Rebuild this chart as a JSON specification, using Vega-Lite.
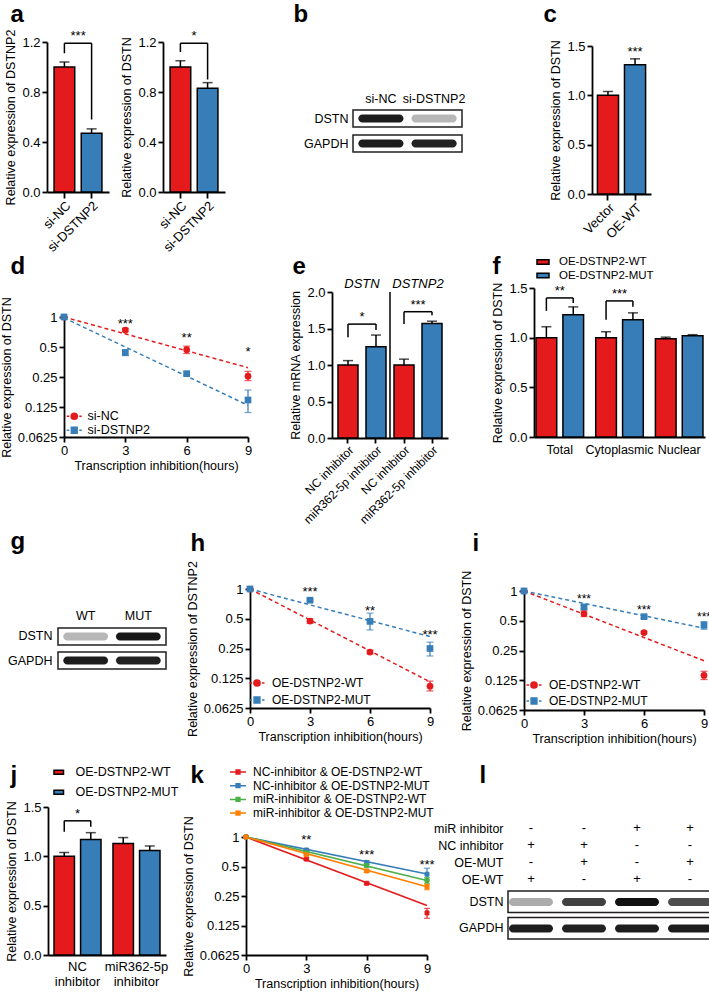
{
"$schema":"https://vega.github.io/schema/vega-lite/v6.json",
"padding":0,
"autosize":{"type":"pad"},
"spacing":0,
"bounds":"flush",
"columns":3,
"resolve":{"scale":{"color":"independent","opacity":"independent","shape":"independent","stroke":"independent","xOffset":"independent"},"legend":{"color":"independent","shape":"independent","stroke":"independent"}},
"config":{
 "font":"Liberation Sans",
 "view":{"stroke":null},
 "axis":{"domainColor":"#000","domainWidth":1.8,"tickColor":"#000","tickWidth":1.8,"tickSize":5,"labelColor":"#000","labelFontSize":13,"labelFont":"Liberation Sans","titleFont":"Liberation Sans","titleFontSize":12.5,"titleFontWeight":"normal","titleColor":"#000","grid":false,"labelFlush":false,"labelOverlap":false,"labelPadding":2,"titlePadding":4},
 "legend":{"labelFont":"Liberation Sans","labelColor":"#000","labelFontSize":12,"padding":0,"titlePadding":0,"labelLimit":400},
 "text":{"font":"Liberation Sans","color":"#000"}
},
"concat":[
 {"width":240,"height":250,
  "resolve":{"scale":{"x":"independent","y":"independent","color":"independent"}},
  "layer":[
   {"data":{"values":[{"group":"si-NC","mean":1.0,"hi":1.04},{"group":"si-DSTNP2","mean":0.47,"hi":0.505}]},
    "encoding":{
     "x":{"field":"group","type":"nominal","scale":{"domain":["si-NC","si-DSTNP2"],"range":[42,104],"paddingInner":0.24,"paddingOuter":0.26},"axis":{"orient":"bottom","offset":-58,"tickSize":6,"labelAngle":-45,"labelAlign":"right","labelBaseline":"top","labelFontSize":13,"labelPadding":1,"title":"a","titleX":5,"titleY":-171,"titleAngle":0,"titleAlign":"left","titleBaseline":"alphabetic","titleFontSize":24,"titleFontWeight":"bold"}},
     "y":{"field":"mean","type":"quantitative","scale":{"domain":[0,1.2],"range":[192,42],"nice":false},"axis":{"orient":"left","offset":-42,"values":[0,0.4,0.8,1.2],"format":".1f","title":"Relative expression of DSTNP2"}}},
    "layer":[
     {"mark":{"type":"bar","stroke":"#000","strokeWidth":1.5},"encoding":{"color":{"field":"group","type":"nominal","scale":{"domain":["si-NC","si-DSTNP2"],"range":["#E41A1C","#377EB8"]},"legend":null}}},
     {"mark":{"type":"rule","strokeWidth":1.5,"color":"#000"},"encoding":{"y":{"field":"mean","type":"quantitative"},"y2":{"field":"hi"}}},
     {"mark":{"type":"tick","orient":"horizontal","size":10,"thickness":1.5,"color":"#000"},"encoding":{"y":{"field":"hi","type":"quantitative"}}},
     {"data":{"values":[{"from":"si-NC","to":"si-DSTNP2","yLeft":1.11,"yRight":0.58,"yTop":1.19,"label":"***"}]},
      "layer":[
       {"mark":{"type":"rule","strokeWidth":1.5,"color":"#000"},"encoding":{"x":{"field":"from","type":"nominal"},"y":{"field":"yLeft","type":"quantitative"},"y2":{"field":"yTop"}}},
       {"mark":{"type":"rule","strokeWidth":1.5,"color":"#000"},"encoding":{"x":{"field":"to","type":"nominal"},"y":{"field":"yRight","type":"quantitative"},"y2":{"field":"yTop"}}},
       {"mark":{"type":"rule","strokeWidth":1.5,"color":"#000"},"encoding":{"x":{"field":"from","type":"nominal","bandPosition":0.5},"x2":{"field":"to","bandPosition":0.5},"y":{"field":"yTop","type":"quantitative"}}},
       {"mark":{"type":"text","fontSize":13,"dy":-3,"baseline":"alphabetic"},"encoding":{"x":{"field":"from","type":"nominal","bandPosition":1.164},"y":{"field":"yTop","type":"quantitative"},"text":{"field":"label"}}}
      ]}
    ]},
   {"data":{"values":[{"group":"si-NC","mean":1.0,"hi":1.05},{"group":"si-DSTNP2","mean":0.83,"hi":0.875}]},
    "encoding":{
     "x":{"field":"group","type":"nominal","scale":{"domain":["si-NC","si-DSTNP2"],"range":[158,220],"paddingInner":0.24,"paddingOuter":0.26},"axis":{"orient":"bottom","offset":-58,"tickSize":6,"labelAngle":-45,"labelAlign":"right","labelBaseline":"top","labelFontSize":13,"labelPadding":1,"title":null}},
     "y":{"field":"mean","type":"quantitative","scale":{"domain":[0,1.2],"range":[192,42],"nice":false},"axis":{"orient":"left","offset":-158,"values":[0,0.4,0.8,1.2],"format":".1f","title":"Relative expression of DSTN"}}},
    "layer":[
     {"mark":{"type":"bar","stroke":"#000","strokeWidth":1.5},"encoding":{"color":{"field":"group","type":"nominal","scale":{"domain":["si-NC","si-DSTNP2"],"range":["#E41A1C","#377EB8"]},"legend":null}}},
     {"mark":{"type":"rule","strokeWidth":1.5,"color":"#000"},"encoding":{"y":{"field":"mean","type":"quantitative"},"y2":{"field":"hi"}}},
     {"mark":{"type":"tick","orient":"horizontal","size":10,"thickness":1.5,"color":"#000"},"encoding":{"y":{"field":"hi","type":"quantitative"}}},
     {"data":{"values":[{"from":"si-NC","to":"si-DSTNP2","yLeft":1.12,"yRight":0.9,"yTop":1.19,"label":"*"}]},
      "layer":[
       {"mark":{"type":"rule","strokeWidth":1.5,"color":"#000"},"encoding":{"x":{"field":"from","type":"nominal"},"y":{"field":"yLeft","type":"quantitative"},"y2":{"field":"yTop"}}},
       {"mark":{"type":"rule","strokeWidth":1.5,"color":"#000"},"encoding":{"x":{"field":"to","type":"nominal"},"y":{"field":"yRight","type":"quantitative"},"y2":{"field":"yTop"}}},
       {"mark":{"type":"rule","strokeWidth":1.5,"color":"#000"},"encoding":{"x":{"field":"from","type":"nominal","bandPosition":0.5},"x2":{"field":"to","bandPosition":0.5},"y":{"field":"yTop","type":"quantitative"}}},
       {"mark":{"type":"text","fontSize":13,"dy":-3,"baseline":"alphabetic"},"encoding":{"x":{"field":"from","type":"nominal","bandPosition":1.164},"y":{"field":"yTop","type":"quantitative"},"text":{"field":"label"}}}
      ]}
    ]}
  ]},
 {"width":230,"height":250,
  "resolve":{"scale":{"x":"independent","y":"independent","opacity":"independent"}},
  "layer":[
   {"data":{"values":[{"protein":"DSTN"},{"protein":"GAPDH"}]},
    "mark":{"type":"rect","fill":"transparent","stroke":"#231f20","strokeWidth":1.5},
    "encoding":{
     "x":{"datum":"blot","type":"nominal","scale":{"domain":["blot"],"range":[108,217],"paddingInner":0,"paddingOuter":0},"axis":null},
     "y":{"field":"protein","type":"nominal","scale":{"domain":["DSTN","GAPDH"],"range":[110,152],"paddingInner":0.32,"paddingOuter":0},"axis":{"orient":"left","offset":-108,"domain":false,"ticks":false,"labelPadding":5,"labelFontSize":12.5,"title":null}}}},
   {"data":{"values":[{"lane":"si-NC","protein":"DSTN","intensity":0.95},{"lane":"si-DSTNP2","protein":"DSTN","intensity":0.3},{"lane":"si-NC","protein":"GAPDH","intensity":0.95},{"lane":"si-DSTNP2","protein":"GAPDH","intensity":0.93}]},
    "mark":{"type":"rect","color":"#111","cornerRadius":4},
    "encoding":{
     "x":{"field":"lane","type":"nominal","scale":{"domain":["si-NC","si-DSTNP2"],"range":[108,217],"paddingInner":0.15,"paddingOuter":0.1},"axis":{"orient":"top","offset":-108,"domain":false,"ticks":false,"labelAngle":0,"labelAlign":"center","labelBaseline":"bottom","labelPadding":3,"labelFontSize":12.5,"title":"b","titleX":48,"titleY":-87,"titleAngle":0,"titleAlign":"left","titleBaseline":"alphabetic","titleFontSize":24,"titleFontWeight":"bold"}},
     "y":{"field":"protein","type":"nominal","scale":{"domain":["DSTN","GAPDH"],"range":[114.5,147.5],"paddingInner":0.68,"paddingOuter":0},"axis":null},
     "opacity":{"field":"intensity","type":"quantitative","scale":{"domain":[0,1],"range":[0,1]},"legend":null}}}
  ]},
 {"width":239,"height":250,
  "data":{"values":[{"group":"Vector","mean":1.0,"hi":1.04,"sig":""},{"group":"OE-WT","mean":1.31,"hi":1.37,"sig":"***"}]},
  "encoding":{
   "x":{"field":"group","type":"nominal","scale":{"domain":["Vector","OE-WT"],"range":[117,176],"paddingInner":0.22,"paddingOuter":0.2},"axis":{"orient":"bottom","offset":-56,"tickSize":6,"labelAngle":-45,"labelAlign":"right","labelBaseline":"top","labelFontSize":13,"labelPadding":1,"title":"c","titleX":68,"titleY":-173,"titleAngle":0,"titleAlign":"left","titleBaseline":"alphabetic","titleFontSize":24,"titleFontWeight":"bold"}},
   "y":{"field":"mean","type":"quantitative","scale":{"domain":[0,1.5],"range":[194,46],"nice":false},"axis":{"orient":"left","offset":-117,"values":[0,0.5,1,1.5],"format":".1f","title":"Relative expression of DSTN"}}},
  "layer":[
   {"mark":{"type":"bar","stroke":"#000","strokeWidth":1.5},"encoding":{"color":{"field":"group","type":"nominal","scale":{"domain":["Vector","OE-WT"],"range":["#E41A1C","#377EB8"]},"legend":null}}},
   {"mark":{"type":"rule","strokeWidth":1.5,"color":"#000"},"encoding":{"y":{"field":"mean","type":"quantitative"},"y2":{"field":"hi"}}},
   {"mark":{"type":"tick","orient":"horizontal","size":10,"thickness":1.5,"color":"#000"},"encoding":{"y":{"field":"hi","type":"quantitative"}}},
   {"mark":{"type":"text","fontSize":13,"dy":-3,"baseline":"alphabetic"},"encoding":{"y":{"field":"hi","type":"quantitative"},"text":{"field":"sig"}}}
  ]},
 {"width":240,"height":240,
  "resolve":{"scale":{"x":"independent"}},
  "layer":[
   {"encoding":{
     "x":{"field":"t","type":"quantitative","scale":{"domain":[0,9],"range":[59,243],"nice":false,"zero":false},"axis":{"orient":"bottom","offset":-53,"values":[0,3,6,9],"title":"Transcription inhibition(hours)","titlePadding":2}},
     "y":{"field":"v","type":"quantitative","scale":{"type":"log","base":2,"domain":[0.0625,1],"range":[187,67],"nice":false},"axis":{"orient":"left","offset":-59,"values":[0.0625,0.125,0.25,0.5,1],"format":"~g","title":"Relative expression of DSTN"}},
     "color":{"condition":{"test":"datum.series === 'si-NC'","value":"#E41A1C"},"value":"#377EB8"},
     "detail":{"field":"series","type":"nominal"}},
    "layer":[
     {"data":{"values":[{"series":"si-NC","t":0,"v":1.0},{"series":"si-NC","t":9,"v":0.31},{"series":"si-DSTNP2","t":0,"v":0.98},{"series":"si-DSTNP2","t":9,"v":0.13}]},
      "mark":{"type":"line","strokeDash":[4,3],"strokeWidth":1.5}},
     {"data":{"values":[
       {"series":"si-NC","t":0,"v":1,"lo":1,"hi":1},{"series":"si-NC","t":3,"v":0.74,"lo":0.71,"hi":0.77},{"series":"si-NC","t":6,"v":0.47,"lo":0.43,"hi":0.51},{"series":"si-NC","t":9,"v":0.255,"lo":0.23,"hi":0.285},
       {"series":"si-DSTNP2","t":0,"v":1,"lo":1,"hi":1},{"series":"si-DSTNP2","t":3,"v":0.44,"lo":0.41,"hi":0.47},{"series":"si-DSTNP2","t":6,"v":0.27,"lo":0.26,"hi":0.28},{"series":"si-DSTNP2","t":9,"v":0.147,"lo":0.11,"hi":0.185}]},
      "layer":[
       {"mark":{"type":"rule","strokeWidth":1.2},"encoding":{"y":{"field":"lo","type":"quantitative"},"y2":{"field":"hi"}}},
       {"mark":{"type":"tick","orient":"horizontal","size":7,"thickness":1.2},"encoding":{"y":{"field":"lo","type":"quantitative"}}},
       {"mark":{"type":"tick","orient":"horizontal","size":7,"thickness":1.2},"encoding":{"y":{"field":"hi","type":"quantitative"}}},
       {"mark":{"type":"point","filled":true,"size":45,"opacity":1},"encoding":{"shape":{"condition":{"test":"datum.series === 'si-NC'","value":"circle"},"value":"square"}}},
       {"mark":{"type":"point","filled":true,"size":100,"opacity":0},
        "encoding":{
         "color":{"field":"series","type":"nominal","scale":{"domain":["si-NC","si-DSTNP2"],"range":["#E41A1C","#377EB8"]},"legend":{"orient":"none","legendX":63,"legendY":160,"title":null,"labelFontSize":12.5,"symbolSize":100,"symbolStrokeWidth":1.5,"symbolOpacity":1,"labelOffset":7,"rowPadding":1}},
         "stroke":{"field":"series","type":"nominal","scale":{"domain":["si-NC","si-DSTNP2"],"range":["#E41A1C","#377EB8"]},"legend":{"orient":"none","legendX":63,"legendY":160,"title":null,"labelFontSize":12.5,"symbolSize":100,"symbolStrokeWidth":1.5,"symbolOpacity":1,"labelOffset":7,"rowPadding":1}},
         "shape":{"field":"series","type":"nominal","scale":{"domain":["si-NC","si-DSTNP2"],"range":["M-1.5,0H-1M1,0H1.5M-0.62,0A0.62,0.62,0,1,1,0.62,0A0.62,0.62,0,1,1,-0.62,0Z","M-1.5,0H-1M1,0H1.5M-0.58,-0.58H0.58V0.58H-0.58Z"]},"legend":{"orient":"none","legendX":63,"legendY":160,"title":null,"labelFontSize":12.5,"symbolSize":100,"symbolStrokeWidth":1.5,"symbolOpacity":1,"labelOffset":7,"rowPadding":1}}}}
      ]}
    ]},
   {"data":{"values":[{"t":3,"v":0.92,"label":"***"},{"t":6,"v":0.66,"label":"**"},{"t":9,"v":0.48,"label":"*"}]},
    "mark":{"type":"text","fontSize":13,"baseline":"middle","dy":3},
    "encoding":{
     "x":{"field":"t","type":"quantitative","scale":{"domain":[0,9],"range":[59,243],"nice":false,"zero":false},"axis":{"orient":"top","offset":0,"domain":false,"ticks":false,"labels":false,"title":"d","titleX":5,"titleY":23,"titleAngle":0,"titleAlign":"left","titleBaseline":"alphabetic","titleFontSize":24,"titleFontWeight":"bold"}},
     "y":{"field":"v","type":"quantitative"},
     "text":{"field":"label"}}}
  ]},
 {"width":230,"height":240,
  "layer":[
   {"data":{"values":[
     {"bar":"DSTN|NC inhibitor","gene":"DSTN","treatment":"NC inhibitor","mean":1.0,"hi":1.06},
     {"bar":"DSTN|miR362-5p inhibitor","gene":"DSTN","treatment":"miR362-5p inhibitor","mean":1.25,"hi":1.41},
     {"bar":"DSTNP2|NC inhibitor","gene":"DSTNP2","treatment":"NC inhibitor","mean":1.0,"hi":1.08},
     {"bar":"DSTNP2|miR362-5p inhibitor","gene":"DSTNP2","treatment":"miR362-5p inhibitor","mean":1.57,"hi":1.6}]},
    "encoding":{
     "x":{"field":"bar","type":"nominal","scale":{"domain":["DSTN|NC inhibitor","DSTN|miR362-5p inhibitor","DSTNP2|NC inhibitor","DSTNP2|miR362-5p inhibitor"],"range":[87,203],"paddingInner":0.286,"paddingOuter":0.214},"axis":{"orient":"bottom","offset":-52,"labelExpr":"split(datum.label, '|')[1]","labelAngle":-45,"labelAlign":"right","labelBaseline":"top","labelFontSize":12,"labelPadding":1,"title":"e","titleX":47,"titleY":-165,"titleAngle":0,"titleAlign":"left","titleBaseline":"alphabetic","titleFontSize":24,"titleFontWeight":"bold"}},
     "y":{"field":"mean","type":"quantitative","scale":{"domain":[0,2],"range":[188,42],"nice":false},"axis":{"orient":"left","offset":-87,"values":[0,0.5,1,1.5,2],"format":".1f","title":"Relative mRNA expression"}}},
    "layer":[
     {"mark":{"type":"bar","stroke":"#000","strokeWidth":1.5},"encoding":{"color":{"field":"treatment","type":"nominal","scale":{"domain":["NC inhibitor","miR362-5p inhibitor"],"range":["#E41A1C","#377EB8"]},"legend":null}}},
     {"mark":{"type":"rule","strokeWidth":1.5,"color":"#000"},"encoding":{"y":{"field":"mean","type":"quantitative"},"y2":{"field":"hi"}}},
     {"mark":{"type":"tick","orient":"horizontal","size":10,"thickness":1.5,"color":"#000"},"encoding":{"y":{"field":"hi","type":"quantitative"}}}
    ]},
   {"data":{"values":[{"gene":"DSTN","first":"DSTN|NC inhibitor"},{"gene":"DSTNP2","first":"DSTNP2|NC inhibitor"}]},
    "mark":{"type":"text","fontSize":13,"fontStyle":"italic","baseline":"alphabetic"},
    "encoding":{"x":{"field":"first","type":"nominal","bandPosition":1.2},"y":{"datum":2.055,"type":"quantitative"},"text":{"field":"gene"}}},
   {"data":{"values":[{"after":"DSTN|miR362-5p inhibitor"}]},
    "mark":{"type":"rule","strokeWidth":1.5,"color":"#000"},
    "encoding":{"x":{"field":"after","type":"nominal","bandPosition":1.2},"y":{"datum":0,"type":"quantitative"},"y2":{"datum":2}}},
   {"data":{"values":[{"from":"DSTN|NC inhibitor","to":"DSTN|miR362-5p inhibitor","yLeft":1.38,"yRight":1.48,"yTop":1.56,"label":"*"},{"from":"DSTNP2|NC inhibitor","to":"DSTNP2|miR362-5p inhibitor","yLeft":1.56,"yRight":1.68,"yTop":1.73,"label":"***"}]},
    "layer":[
     {"mark":{"type":"rule","strokeWidth":1.5,"color":"#000"},"encoding":{"x":{"field":"from","type":"nominal"},"y":{"field":"yLeft","type":"quantitative"},"y2":{"field":"yTop"}}},
     {"mark":{"type":"rule","strokeWidth":1.5,"color":"#000"},"encoding":{"x":{"field":"to","type":"nominal"},"y":{"field":"yRight","type":"quantitative"},"y2":{"field":"yTop"}}},
     {"mark":{"type":"rule","strokeWidth":1.5,"color":"#000"},"encoding":{"x":{"field":"from","type":"nominal","bandPosition":0.5},"x2":{"field":"to","bandPosition":0.5},"y":{"field":"yTop","type":"quantitative"}}},
     {"mark":{"type":"text","fontSize":13,"dy":-3,"baseline":"alphabetic"},"encoding":{"x":{"field":"from","type":"nominal","bandPosition":1.2},"y":{"field":"yTop","type":"quantitative"},"text":{"field":"label"}}}
    ]}
  ]},
 {"width":239,"height":240,
  "layer":[
   {"data":{"values":[
     {"fraction":"Total","construct":"OE-DSTNP2-WT","mean":1.0,"hi":1.11},
     {"fraction":"Total","construct":"OE-DSTNP2-MUT","mean":1.23,"hi":1.31},
     {"fraction":"Cytoplasmic","construct":"OE-DSTNP2-WT","mean":1.0,"hi":1.06},
     {"fraction":"Cytoplasmic","construct":"OE-DSTNP2-MUT","mean":1.18,"hi":1.25},
     {"fraction":"Nuclear","construct":"OE-DSTNP2-WT","mean":0.99,"hi":1.005},
     {"fraction":"Nuclear","construct":"OE-DSTNP2-MUT","mean":1.02,"hi":1.03}]},
    "encoding":{
     "x":{"field":"fraction","type":"nominal","scale":{"domain":["Total","Cytoplasmic","Nuclear"],"range":[59,230],"paddingInner":0.203,"paddingOuter":0.034},"axis":{"orient":"bottom","offset":-53,"ticks":false,"labelAngle":0,"labelAlign":"center","labelBaseline":"top","labelPadding":6,"labelFontSize":12.5,"title":"f","titleX":17,"titleY":-164,"titleAngle":0,"titleAlign":"left","titleBaseline":"alphabetic","titleFontSize":24,"titleFontWeight":"bold"}},
     "xOffset":{"field":"construct","type":"nominal","scale":{"domain":["OE-DSTNP2-WT","OE-DSTNP2-MUT"],"paddingInner":0.23,"paddingOuter":0}},
     "y":{"field":"mean","type":"quantitative","scale":{"domain":[0,1.5],"range":[187,38],"nice":false},"axis":{"orient":"left","offset":-59,"values":[0,0.5,1,1.5],"format":".1f","title":"Relative expression of DSTN"}}},
    "layer":[
     {"mark":{"type":"bar","stroke":"#000","strokeWidth":1.5},"encoding":{"color":{"field":"construct","type":"nominal","scale":{"domain":["OE-DSTNP2-WT","OE-DSTNP2-MUT"],"range":["#E41A1C","#377EB8"]},"legend":{"orient":"none","legendX":62,"legendY":6,"title":null,"labelFontSize":11.5,"symbolType":"M-1.2,-0.45H1.2V0.45H-1.2Z","symbolSize":100,"symbolStrokeColor":"#000","symbolStrokeWidth":1.5,"symbolOpacity":1,"labelOffset":10,"rowPadding":1.5}}}},
     {"mark":{"type":"rule","strokeWidth":1.5,"color":"#000"},"encoding":{"y":{"field":"mean","type":"quantitative"},"y2":{"field":"hi"}}},
     {"mark":{"type":"tick","orient":"horizontal","size":10,"thickness":1.5,"color":"#000"},"encoding":{"y":{"field":"hi","type":"quantitative"}}}
    ]},
   {"data":{"values":[{"fraction":"Total","yLeft":1.27,"yRight":1.35,"yTop":1.4,"label":"**"},{"fraction":"Cytoplasmic","yLeft":1.18,"yRight":1.31,"yTop":1.37,"label":"***"}]},
    "layer":[
     {"mark":{"type":"rule","strokeWidth":1.5,"color":"#000"},"encoding":{"x":{"field":"fraction","type":"nominal","bandPosition":0.2176},"y":{"field":"yLeft","type":"quantitative"},"y2":{"field":"yTop"}}},
     {"mark":{"type":"rule","strokeWidth":1.5,"color":"#000"},"encoding":{"x":{"field":"fraction","type":"nominal","bandPosition":0.782},"y":{"field":"yRight","type":"quantitative"},"y2":{"field":"yTop"}}},
     {"mark":{"type":"rule","strokeWidth":1.5,"color":"#000"},"encoding":{"x":{"field":"fraction","type":"nominal","bandPosition":0.2176},"x2":{"field":"fraction","bandPosition":0.782},"y":{"field":"yTop","type":"quantitative"}}},
     {"mark":{"type":"text","fontSize":13,"dy":-3,"baseline":"alphabetic"},"encoding":{"x":{"field":"fraction","type":"nominal","bandPosition":0.5},"y":{"field":"yTop","type":"quantitative"},"text":{"field":"label"}}}
    ]}
  ]},
 {"width":240,"height":250,
  "resolve":{"scale":{"x":"independent","y":"independent","opacity":"independent"}},
  "layer":[
   {"data":{"values":[{"protein":"DSTN"},{"protein":"GAPDH"}]},
    "mark":{"type":"rect","fill":"transparent","stroke":"#231f20","strokeWidth":1.5},
    "encoding":{
     "x":{"datum":"blot","type":"nominal","scale":{"domain":["blot"],"range":[53,161],"paddingInner":0,"paddingOuter":0},"axis":null},
     "y":{"field":"protein","type":"nominal","scale":{"domain":["DSTN","GAPDH"],"range":[138,179],"paddingInner":0.292,"paddingOuter":0},"axis":{"orient":"left","offset":-53,"domain":false,"ticks":false,"labelPadding":6,"labelFontSize":12.5,"title":null}}}},
   {"data":{"values":[{"lane":"WT","protein":"DSTN","intensity":0.3},{"lane":"MUT","protein":"DSTN","intensity":0.97},{"lane":"WT","protein":"GAPDH","intensity":0.95},{"lane":"MUT","protein":"GAPDH","intensity":0.93}]},
    "mark":{"type":"rect","color":"#111","cornerRadius":4},
    "encoding":{
     "x":{"field":"lane","type":"nominal","scale":{"domain":["WT","MUT"],"range":[53,161],"paddingInner":0.15,"paddingOuter":0.1},"axis":{"orient":"top","offset":-135,"domain":false,"ticks":false,"labelAngle":0,"labelAlign":"center","labelBaseline":"bottom","labelPadding":3,"labelFontSize":12.5,"title":"g","titleX":5,"titleY":-77,"titleAngle":0,"titleAlign":"left","titleBaseline":"alphabetic","titleFontSize":24,"titleFontWeight":"bold"}},
     "y":{"field":"protein","type":"nominal","scale":{"domain":["DSTN","GAPDH"],"range":[142.5,174.5],"paddingInner":0.667,"paddingOuter":0},"axis":null},
     "opacity":{"field":"intensity","type":"quantitative","scale":{"domain":[0,1],"range":[0,1]},"legend":null}}}
  ]},
 {"width":230,"height":250,
  "resolve":{"scale":{"x":"independent"}},
  "layer":[
   {"encoding":{
     "x":{"field":"t","type":"quantitative","scale":{"domain":[0,9],"range":[5,185],"nice":false,"zero":false},"axis":{"orient":"bottom","offset":-32,"values":[0,3,6,9],"title":"Transcription inhibition(hours)","titlePadding":2}},
     "y":{"field":"v","type":"quantitative","scale":{"type":"log","base":2,"domain":[0.0625,1],"range":[218,99],"nice":false},"axis":{"orient":"left","offset":-5,"values":[0.0625,0.125,0.25,0.5,1],"format":"~g","title":"Relative expression of DSTNP2"}},
     "color":{"condition":{"test":"datum.series === 'OE-DSTNP2-WT'","value":"#E41A1C"},"value":"#377EB8"},
     "detail":{"field":"series","type":"nominal"}},
    "layer":[
     {"data":{"values":[{"series":"OE-DSTNP2-WT","t":0,"v":1.0},{"series":"OE-DSTNP2-WT","t":9,"v":0.115},{"series":"OE-DSTNP2-MUT","t":0,"v":1.0},{"series":"OE-DSTNP2-MUT","t":9,"v":0.33}]},
      "mark":{"type":"line","strokeDash":[4,3],"strokeWidth":1.5}},
     {"data":{"values":[
       {"series":"OE-DSTNP2-WT","t":0,"v":1,"lo":1,"hi":1},{"series":"OE-DSTNP2-WT","t":3,"v":0.474,"lo":0.45,"hi":0.5},{"series":"OE-DSTNP2-WT","t":6,"v":0.23,"lo":0.22,"hi":0.24},{"series":"OE-DSTNP2-WT","t":9,"v":0.104,"lo":0.093,"hi":0.117},
       {"series":"OE-DSTNP2-MUT","t":0,"v":1,"lo":1,"hi":1},{"series":"OE-DSTNP2-MUT","t":3,"v":0.77,"lo":0.75,"hi":0.79},{"series":"OE-DSTNP2-MUT","t":6,"v":0.47,"lo":0.385,"hi":0.57},{"series":"OE-DSTNP2-MUT","t":9,"v":0.25,"lo":0.21,"hi":0.29}]},
      "layer":[
       {"mark":{"type":"rule","strokeWidth":1.2},"encoding":{"y":{"field":"lo","type":"quantitative"},"y2":{"field":"hi"}}},
       {"mark":{"type":"tick","orient":"horizontal","size":7,"thickness":1.2},"encoding":{"y":{"field":"lo","type":"quantitative"}}},
       {"mark":{"type":"tick","orient":"horizontal","size":7,"thickness":1.2},"encoding":{"y":{"field":"hi","type":"quantitative"}}},
       {"mark":{"type":"point","filled":true,"size":45,"opacity":1},"encoding":{"shape":{"condition":{"test":"datum.series === 'OE-DSTNP2-WT'","value":"circle"},"value":"square"}}},
       {"mark":{"type":"point","filled":true,"size":100,"opacity":0},
        "encoding":{
         "color":{"field":"series","type":"nominal","scale":{"domain":["OE-DSTNP2-WT","OE-DSTNP2-MUT"],"range":["#E41A1C","#377EB8"]},"legend":{"orient":"none","legendX":6,"legendY":187,"title":null,"labelFontSize":12,"symbolSize":100,"symbolStrokeWidth":1.5,"symbolOpacity":1,"labelOffset":9,"rowPadding":4}},
         "stroke":{"field":"series","type":"nominal","scale":{"domain":["OE-DSTNP2-WT","OE-DSTNP2-MUT"],"range":["#E41A1C","#377EB8"]},"legend":{"orient":"none","legendX":6,"legendY":187,"title":null,"labelFontSize":12,"symbolSize":100,"symbolStrokeWidth":1.5,"symbolOpacity":1,"labelOffset":9,"rowPadding":4}},
         "shape":{"field":"series","type":"nominal","scale":{"domain":["OE-DSTNP2-WT","OE-DSTNP2-MUT"],"range":["M-1.5,0H-1M1,0H1.5M-0.62,0A0.62,0.62,0,1,1,0.62,0A0.62,0.62,0,1,1,-0.62,0Z","M-1.5,0H-1M1,0H1.5M-0.58,-0.58H0.58V0.58H-0.58Z"]},"legend":{"orient":"none","legendX":6,"legendY":187,"title":null,"labelFontSize":12,"symbolSize":100,"symbolStrokeWidth":1.5,"symbolOpacity":1,"labelOffset":9,"rowPadding":4}}}}
      ]}
    ]},
   {"data":{"values":[{"t":3,"v":1.0,"label":"***"},{"t":6,"v":0.64,"label":"**"},{"t":9,"v":0.37,"label":"***"}]},
    "mark":{"type":"text","fontSize":13,"baseline":"middle","dy":3},
    "encoding":{
     "x":{"field":"t","type":"quantitative","scale":{"domain":[0,9],"range":[5,185],"nice":false,"zero":false},"axis":{"orient":"top","offset":0,"domain":false,"ticks":false,"labels":false,"title":"h","titleX":-55,"titleY":60,"titleAngle":0,"titleAlign":"left","titleBaseline":"alphabetic","titleFontSize":24,"titleFontWeight":"bold"}},
     "y":{"field":"v","type":"quantitative"},
     "text":{"field":"label"}}}
  ]},
 {"width":239,"height":250,
  "resolve":{"scale":{"x":"independent"}},
  "layer":[
   {"encoding":{
     "x":{"field":"t","type":"quantitative","scale":{"domain":[0,9],"range":[49,229],"nice":false,"zero":false},"axis":{"orient":"bottom","offset":-30,"values":[0,3,6,9],"title":"Transcription inhibition(hours)","titlePadding":2}},
     "y":{"field":"v","type":"quantitative","scale":{"type":"log","base":2,"domain":[0.0625,1],"range":[220,101],"nice":false},"axis":{"orient":"left","offset":-49,"values":[0.0625,0.125,0.25,0.5,1],"format":"~g","title":"Relative expression of DSTN"}},
     "color":{"condition":{"test":"datum.series === 'OE-DSTNP2-WT'","value":"#E41A1C"},"value":"#377EB8"},
     "detail":{"field":"series","type":"nominal"}},
    "layer":[
     {"data":{"values":[{"series":"OE-DSTNP2-WT","t":0,"v":1.0},{"series":"OE-DSTNP2-WT","t":9,"v":0.197},{"series":"OE-DSTNP2-MUT","t":0,"v":1.0},{"series":"OE-DSTNP2-MUT","t":9,"v":0.42}]},
      "mark":{"type":"line","strokeDash":[4,3],"strokeWidth":1.5}},
     {"data":{"values":[
       {"series":"OE-DSTNP2-WT","t":0,"v":1,"lo":1,"hi":1},{"series":"OE-DSTNP2-WT","t":3,"v":0.59,"lo":0.55,"hi":0.63},{"series":"OE-DSTNP2-WT","t":6,"v":0.38,"lo":0.37,"hi":0.39},{"series":"OE-DSTNP2-WT","t":9,"v":0.14,"lo":0.127,"hi":0.154},
       {"series":"OE-DSTNP2-MUT","t":0,"v":1,"lo":1,"hi":1},{"series":"OE-DSTNP2-MUT","t":3,"v":0.69,"lo":0.66,"hi":0.72},{"series":"OE-DSTNP2-MUT","t":6,"v":0.55,"lo":0.53,"hi":0.57},{"series":"OE-DSTNP2-MUT","t":9,"v":0.45,"lo":0.41,"hi":0.49}]},
      "layer":[
       {"mark":{"type":"rule","strokeWidth":1.2},"encoding":{"y":{"field":"lo","type":"quantitative"},"y2":{"field":"hi"}}},
       {"mark":{"type":"tick","orient":"horizontal","size":7,"thickness":1.2},"encoding":{"y":{"field":"lo","type":"quantitative"}}},
       {"mark":{"type":"tick","orient":"horizontal","size":7,"thickness":1.2},"encoding":{"y":{"field":"hi","type":"quantitative"}}},
       {"mark":{"type":"point","filled":true,"size":45,"opacity":1},"encoding":{"shape":{"condition":{"test":"datum.series === 'OE-DSTNP2-WT'","value":"circle"},"value":"square"}}},
       {"mark":{"type":"point","filled":true,"size":100,"opacity":0},
        "encoding":{
         "color":{"field":"series","type":"nominal","scale":{"domain":["OE-DSTNP2-WT","OE-DSTNP2-MUT"],"range":["#E41A1C","#377EB8"]},"legend":{"orient":"none","legendX":53,"legendY":189,"title":null,"labelFontSize":12,"symbolSize":100,"symbolStrokeWidth":1.5,"symbolOpacity":1,"labelOffset":9,"rowPadding":3}},
         "stroke":{"field":"series","type":"nominal","scale":{"domain":["OE-DSTNP2-WT","OE-DSTNP2-MUT"],"range":["#E41A1C","#377EB8"]},"legend":{"orient":"none","legendX":53,"legendY":189,"title":null,"labelFontSize":12,"symbolSize":100,"symbolStrokeWidth":1.5,"symbolOpacity":1,"labelOffset":9,"rowPadding":3}},
         "shape":{"field":"series","type":"nominal","scale":{"domain":["OE-DSTNP2-WT","OE-DSTNP2-MUT"],"range":["M-1.5,0H-1M1,0H1.5M-0.62,0A0.62,0.62,0,1,1,0.62,0A0.62,0.62,0,1,1,-0.62,0Z","M-1.5,0H-1M1,0H1.5M-0.58,-0.58H0.58V0.58H-0.58Z"]},"legend":{"orient":"none","legendX":53,"legendY":189,"title":null,"labelFontSize":12,"symbolSize":100,"symbolStrokeWidth":1.5,"symbolOpacity":1,"labelOffset":9,"rowPadding":3}}}}
      ]}
    ]},
   {"data":{"values":[{"t":3,"v":0.89,"label":"***"},{"t":6,"v":0.69,"label":"***"},{"t":9,"v":0.58,"label":"***"}]},
    "mark":{"type":"text","fontSize":12,"baseline":"middle","dy":3,"align":"center"},
    "encoding":{
     "x":{"field":"t","type":"quantitative","scale":{"domain":[0,9],"range":[49,229],"nice":false,"zero":false},"axis":{"orient":"top","offset":0,"domain":false,"ticks":false,"labels":false,"title":"i","titleX":-3,"titleY":60,"titleAngle":0,"titleAlign":"left","titleBaseline":"alphabetic","titleFontSize":24,"titleFontWeight":"bold"}},
     "y":{"field":"v","type":"quantitative"},
     "text":{"field":"label"}}}
  ]},
 {"width":240,"height":252,
  "layer":[
   {"data":{"values":[
     {"inhibitor":"NC inhibitor","construct":"OE-DSTNP2-WT","mean":1.0,"hi":1.04},
     {"inhibitor":"NC inhibitor","construct":"OE-DSTNP2-MUT","mean":1.17,"hi":1.24},
     {"inhibitor":"miR362-5p inhibitor","construct":"OE-DSTNP2-WT","mean":1.13,"hi":1.19},
     {"inhibitor":"miR362-5p inhibitor","construct":"OE-DSTNP2-MUT","mean":1.06,"hi":1.105}]},
    "encoding":{
     "x":{"field":"inhibitor","type":"nominal","scale":{"domain":["NC inhibitor","miR362-5p inhibitor"],"range":[43,161],"paddingInner":0.203,"paddingOuter":0.102},"axis":{"orient":"bottom","offset":-37,"ticks":false,"labelAngle":0,"labelAlign":"center","labelBaseline":"top","labelPadding":5,"labelFontSize":13,"labelExpr":"split(datum.label, ' ')","labelLineHeight":15,"title":"j","titleX":5,"titleY":-173,"titleAngle":0,"titleAlign":"left","titleBaseline":"alphabetic","titleFontSize":24,"titleFontWeight":"bold"}},
     "xOffset":{"field":"construct","type":"nominal","scale":{"domain":["OE-DSTNP2-WT","OE-DSTNP2-MUT"],"paddingInner":0.23,"paddingOuter":0}},
     "y":{"field":"mean","type":"quantitative","scale":{"domain":[0,1.5],"range":[215,67],"nice":false},"axis":{"orient":"left","offset":-43,"values":[0,0.5,1,1.5],"format":".1f","title":"Relative expression of DSTN"}}},
    "layer":[
     {"mark":{"type":"bar","stroke":"#000","strokeWidth":1.5},"encoding":{"color":{"field":"construct","type":"nominal","scale":{"domain":["OE-DSTNP2-WT","OE-DSTNP2-MUT"],"range":["#E41A1C","#377EB8"]},"legend":{"orient":"none","legendX":47.5,"legendY":26,"title":null,"labelFontSize":12.5,"symbolType":"M-0.95,-0.4H0.95V0.4H-0.95Z","symbolSize":100,"symbolStrokeColor":"#000","symbolStrokeWidth":1.5,"symbolOpacity":1,"labelOffset":10.5,"rowPadding":7}}}},
     {"mark":{"type":"rule","strokeWidth":1.5,"color":"#000"},"encoding":{"y":{"field":"mean","type":"quantitative"},"y2":{"field":"hi"}}},
     {"mark":{"type":"tick","orient":"horizontal","size":10,"thickness":1.5,"color":"#000"},"encoding":{"y":{"field":"hi","type":"quantitative"}}}
    ]},
   {"data":{"values":[{"inhibitor":"NC inhibitor","yLeft":1.25,"yRight":1.3,"yTop":1.36,"label":"*"}]},
    "layer":[
     {"mark":{"type":"rule","strokeWidth":1.5,"color":"#000"},"encoding":{"x":{"field":"inhibitor","type":"nominal","bandPosition":0.2176},"y":{"field":"yLeft","type":"quantitative"},"y2":{"field":"yTop"}}},
     {"mark":{"type":"rule","strokeWidth":1.5,"color":"#000"},"encoding":{"x":{"field":"inhibitor","type":"nominal","bandPosition":0.782},"y":{"field":"yRight","type":"quantitative"},"y2":{"field":"yTop"}}},
     {"mark":{"type":"rule","strokeWidth":1.5,"color":"#000"},"encoding":{"x":{"field":"inhibitor","type":"nominal","bandPosition":0.2176},"x2":{"field":"inhibitor","bandPosition":0.782},"y":{"field":"yTop","type":"quantitative"}}},
     {"mark":{"type":"text","fontSize":13,"dy":-3,"baseline":"alphabetic"},"encoding":{"x":{"field":"inhibitor","type":"nominal","bandPosition":0.5},"y":{"field":"yTop","type":"quantitative"},"text":{"field":"label"}}}
    ]}
  ]},
 {"width":230,"height":252,
  "resolve":{"scale":{"x":"independent"}},
  "layer":[
   {"encoding":{
     "x":{"field":"t","type":"quantitative","scale":{"domain":[0,9],"range":[1,182],"nice":false,"zero":false},"axis":{"orient":"bottom","offset":-37,"values":[0,3,6,9],"title":"Transcription inhibition(hours)","titlePadding":2}},
     "y":{"field":"v","type":"quantitative","scale":{"type":"log","base":2,"domain":[0.0625,1],"range":[215,97],"nice":false},"axis":{"orient":"left","offset":-1,"values":[0.0625,0.125,0.25,0.5,1],"format":"~g","title":"Relative expression of DSTN"}},
     "color":{"condition":[{"test":"datum.series === 'NC-inhibitor & OE-DSTNP2-WT'","value":"#E41A1C"},{"test":"datum.series === 'NC-inhibitor & OE-DSTNP2-MUT'","value":"#377EB8"},{"test":"datum.series === 'miR-inhibitor & OE-DSTNP2-WT'","value":"#4DAF4A"}],"value":"#FF7F00"},
     "detail":{"field":"series","type":"nominal"}},
    "layer":[
     {"data":{"values":[
       {"series":"NC-inhibitor & OE-DSTNP2-WT","t":0,"v":1.0},{"series":"NC-inhibitor & OE-DSTNP2-WT","t":9,"v":0.2},
       {"series":"NC-inhibitor & OE-DSTNP2-MUT","t":0,"v":1.0},{"series":"NC-inhibitor & OE-DSTNP2-MUT","t":9,"v":0.42},
       {"series":"miR-inhibitor & OE-DSTNP2-WT","t":0,"v":1.0},{"series":"miR-inhibitor & OE-DSTNP2-WT","t":9,"v":0.36},
       {"series":"miR-inhibitor & OE-DSTNP2-MUT","t":0,"v":1.0},{"series":"miR-inhibitor & OE-DSTNP2-MUT","t":9,"v":0.31}]},
      "mark":{"type":"line","strokeWidth":1.6}},
     {"data":{"values":[
       {"series":"NC-inhibitor & OE-DSTNP2-WT","t":0,"v":1,"lo":1,"hi":1},{"series":"NC-inhibitor & OE-DSTNP2-WT","t":3,"v":0.595,"lo":0.58,"hi":0.61},{"series":"NC-inhibitor & OE-DSTNP2-WT","t":6,"v":0.337,"lo":0.33,"hi":0.345},{"series":"NC-inhibitor & OE-DSTNP2-WT","t":9,"v":0.168,"lo":0.148,"hi":0.187},
       {"series":"NC-inhibitor & OE-DSTNP2-MUT","t":0,"v":1,"lo":1,"hi":1},{"series":"NC-inhibitor & OE-DSTNP2-MUT","t":3,"v":0.737,"lo":0.72,"hi":0.755},{"series":"NC-inhibitor & OE-DSTNP2-MUT","t":6,"v":0.55,"lo":0.53,"hi":0.57},{"series":"NC-inhibitor & OE-DSTNP2-MUT","t":9,"v":0.417,"lo":0.364,"hi":0.48},
       {"series":"miR-inhibitor & OE-DSTNP2-WT","t":0,"v":1,"lo":1,"hi":1},{"series":"miR-inhibitor & OE-DSTNP2-WT","t":3,"v":0.69,"lo":0.675,"hi":0.705},{"series":"miR-inhibitor & OE-DSTNP2-WT","t":6,"v":0.51,"lo":0.495,"hi":0.525},{"series":"miR-inhibitor & OE-DSTNP2-WT","t":9,"v":0.36,"lo":0.335,"hi":0.385},
       {"series":"miR-inhibitor & OE-DSTNP2-MUT","t":0,"v":1,"lo":1,"hi":1},{"series":"miR-inhibitor & OE-DSTNP2-MUT","t":3,"v":0.66,"lo":0.645,"hi":0.675},{"series":"miR-inhibitor & OE-DSTNP2-MUT","t":6,"v":0.45,"lo":0.435,"hi":0.465},{"series":"miR-inhibitor & OE-DSTNP2-MUT","t":9,"v":0.31,"lo":0.29,"hi":0.33}]},
      "layer":[
       {"mark":{"type":"rule","strokeWidth":1.2},"encoding":{"y":{"field":"lo","type":"quantitative"},"y2":{"field":"hi"}}},
       {"mark":{"type":"tick","orient":"horizontal","size":6,"thickness":1.2},"encoding":{"y":{"field":"lo","type":"quantitative"}}},
       {"mark":{"type":"tick","orient":"horizontal","size":6,"thickness":1.2},"encoding":{"y":{"field":"hi","type":"quantitative"}}},
       {"mark":{"type":"point","filled":true,"size":16,"opacity":1,"shape":"square","strokeWidth":1},
        "encoding":{
         "color":{"field":"series","type":"nominal","scale":{"domain":["NC-inhibitor & OE-DSTNP2-WT","NC-inhibitor & OE-DSTNP2-MUT","miR-inhibitor & OE-DSTNP2-WT","miR-inhibitor & OE-DSTNP2-MUT"],"range":["#E41A1C","#377EB8","#4DAF4A","#FF7F00"]},"legend":{"orient":"none","legendX":-13,"legendY":26,"title":null,"labelFontSize":12,"labelLimit":400,"symbolSize":100,"symbolStrokeWidth":1.5,"symbolOpacity":1,"symbolType":"M-1.6,0H1.6M-0.38,-0.38H0.38V0.38H-0.38Z","labelOffset":9,"rowPadding":1.7}},
         "stroke":{"field":"series","type":"nominal","scale":{"domain":["NC-inhibitor & OE-DSTNP2-WT","NC-inhibitor & OE-DSTNP2-MUT","miR-inhibitor & OE-DSTNP2-WT","miR-inhibitor & OE-DSTNP2-MUT"],"range":["#E41A1C","#377EB8","#4DAF4A","#FF7F00"]},"legend":{"orient":"none","legendX":-13,"legendY":26,"title":null,"labelFontSize":12,"labelLimit":400,"symbolSize":100,"symbolStrokeWidth":1.5,"symbolOpacity":1,"symbolType":"M-1.6,0H1.6M-0.38,-0.38H0.38V0.38H-0.38Z","labelOffset":9,"rowPadding":1.7}}}}
      ]}
    ]},
   {"data":{"values":[{"t":3,"v":1.0,"label":"**"},{"t":6,"v":0.71,"label":"***"},{"t":9,"v":0.55,"label":"***"}]},
    "mark":{"type":"text","fontSize":13,"baseline":"middle","dy":3},
    "encoding":{
     "x":{"field":"t","type":"quantitative","scale":{"domain":[0,9],"range":[1,182],"nice":false,"zero":false},"axis":{"orient":"top","offset":0,"domain":false,"ticks":false,"labels":false,"title":"k","titleX":-55,"titleY":42,"titleAngle":0,"titleAlign":"left","titleBaseline":"alphabetic","titleFontSize":24,"titleFontWeight":"bold"}},
     "y":{"field":"v","type":"quantitative"},
     "text":{"field":"label"}}}
  ]},
 {"width":239,"height":252,
  "resolve":{"scale":{"x":"independent","y":"independent","opacity":"independent"}},
  "layer":[
   {"data":{"values":[
     {"lane":"1","condition":"miR inhibitor","sign":"-"},{"lane":"2","condition":"miR inhibitor","sign":"-"},{"lane":"3","condition":"miR inhibitor","sign":"+"},{"lane":"4","condition":"miR inhibitor","sign":"+"},
     {"lane":"1","condition":"NC inhibitor","sign":"+"},{"lane":"2","condition":"NC inhibitor","sign":"+"},{"lane":"3","condition":"NC inhibitor","sign":"-"},{"lane":"4","condition":"NC inhibitor","sign":"-"},
     {"lane":"1","condition":"OE-MUT","sign":"-"},{"lane":"2","condition":"OE-MUT","sign":"+"},{"lane":"3","condition":"OE-MUT","sign":"-"},{"lane":"4","condition":"OE-MUT","sign":"+"},
     {"lane":"1","condition":"OE-WT","sign":"+"},{"lane":"2","condition":"OE-WT","sign":"-"},{"lane":"3","condition":"OE-WT","sign":"+"},{"lane":"4","condition":"OE-WT","sign":"-"}]},
    "mark":{"type":"text","fontSize":13,"baseline":"middle"},
    "encoding":{
     "x":{"field":"lane","type":"nominal","scale":{"type":"point","domain":["1","2","3","4"],"range":[56,215],"padding":0},"axis":null},
     "y":{"field":"condition","type":"nominal","scale":{"type":"point","domain":["miR inhibitor","NC inhibitor","OE-MUT","OE-WT"],"range":[88,139],"padding":0},"axis":{"orient":"left","offset":-33,"domain":false,"ticks":false,"labelPadding":5,"labelFontSize":12.5,"title":null}},
     "text":{"field":"sign"}}},
   {"data":{"values":[{"protein":"DSTN"},{"protein":"GAPDH"}]},
    "mark":{"type":"rect","fill":"transparent","stroke":"#231f20","strokeWidth":1.5},
    "encoding":{
     "x":{"datum":"blot","type":"nominal","scale":{"domain":["blot"],"range":[33,237],"paddingInner":0,"paddingOuter":0},"axis":null},
     "y":{"field":"protein","type":"nominal","scale":{"domain":["DSTN","GAPDH"],"range":[151,199],"paddingInner":0.19,"paddingOuter":0},"axis":{"orient":"left","offset":-33,"domain":false,"ticks":false,"labelPadding":5,"labelFontSize":12.5,"title":"l","titleX":-29,"titleY":42,"titleAngle":0,"titleAlign":"left","titleBaseline":"alphabetic","titleFontSize":24,"titleFontWeight":"bold"}}}},
   {"data":{"values":[
     {"lane":"1","protein":"DSTN","intensity":0.35},{"lane":"2","protein":"DSTN","intensity":0.8},{"lane":"3","protein":"DSTN","intensity":1.0},{"lane":"4","protein":"DSTN","intensity":0.75},
     {"lane":"1","protein":"GAPDH","intensity":0.95},{"lane":"2","protein":"GAPDH","intensity":0.93},{"lane":"3","protein":"GAPDH","intensity":0.95},{"lane":"4","protein":"GAPDH","intensity":0.95}]},
    "mark":{"type":"rect","color":"#111","cornerRadius":4},
    "encoding":{
     "x":{"field":"lane","type":"nominal","scale":{"domain":["1","2","3","4"],"range":[34,237],"paddingInner":0.17,"paddingOuter":0},"axis":null},
     "y":{"field":"protein","type":"nominal","scale":{"domain":["DSTN","GAPDH"],"range":[158,192.5],"paddingInner":0.698,"paddingOuter":0},"axis":null},
     "opacity":{"field":"intensity","type":"quantitative","scale":{"domain":[0,1],"range":[0,1]},"legend":null}}}
  ]}
]
}
